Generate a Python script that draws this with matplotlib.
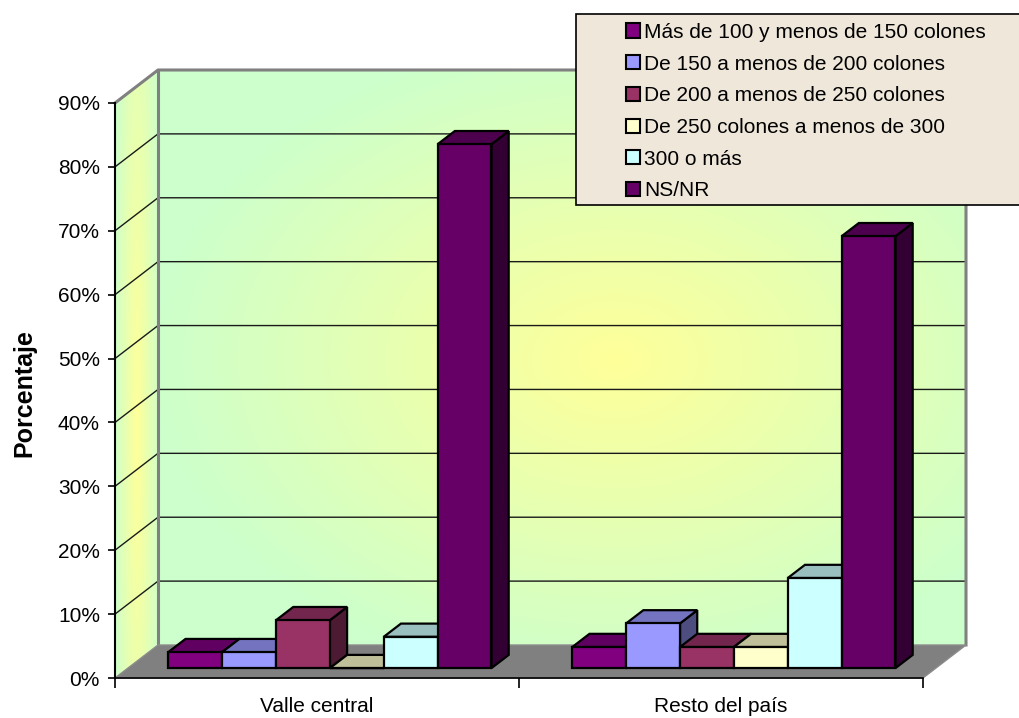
import numpy as np
import matplotlib
matplotlib.use("Agg")
import matplotlib.pyplot as plt
from matplotlib.patches import Polygon, Rectangle
from matplotlib.colors import to_rgb

plt.rcParams['font.family'] = ['Liberation Sans', 'DejaVu Sans']

# data
categories = ["Valle central", "Resto del país"]
series = ["Más de 100 y menos de 150 colones",
          "De 150 a menos de 200 colones",
          "De 200 a menos de 250 colones",
          "De 250 colones a menos de 300",
          "300 o más",
          "NS/NR"]
valle = [2.5, 2.5, 7.5, 0.0, 4.9, 82.0]
resto = [3.3, 7.0, 3.3, 3.3, 14.1, 67.6]
colors = ["#800080", "#9999FF", "#993366", "#FFFFCC", "#CCFFFF", "#660066"]
yticks = [0, 10, 20, 30, 40, 50, 60, 70, 80, 90]

W, H = 1019, 718
fig = plt.figure(figsize=(W / 100, H / 100), dpi=100)
fig.patch.set_facecolor("white")
# front plane of the 3d box
ax = fig.add_axes([115 / W, 40 / H, 808 / W, 575 / H])
ax.patch.set_visible(False)

# depth of the box, in data units
DX = 43 / 404
DY = 33 * 90 / 575
d0, d1 = 0.3, 0.7       # bar depth range
bw = 1 / 7.5            # bar width (gap 150%)


def shade(c, f):
    r, g, b = to_rgb(c)
    return (r * f, g * f, b * f)


def gradient(x0, x1, y0, y1, cx, cy, rx, ry):
    xs = np.linspace(x0, x1, 300)
    ys = np.linspace(y0, y1, 300)
    X, Y = np.meshgrid(xs, ys)
    px = 115 + 404 * X
    py = 678 - 575 / 90 * Y
    t = np.clip(np.sqrt(((px - cx) / rx) ** 2 + ((py - cy) / ry) ** 2), 0, 1)
    yel = np.array(to_rgb("#FFFF99"))
    grn = np.array(to_rgb("#CCFFCC"))
    return yel * (1 - t[..., None]) + grn * t[..., None]


# back wall
back = Polygon([(DX, DY), (2 + DX, DY), (2 + DX, 90 + DY), (DX, 90 + DY)],
               closed=True, transform=ax.transData)
img = ax.imshow(gradient(DX, 2 + DX, DY, 90 + DY, 615, 360, 470, 330),
                extent=(DX, 2 + DX, DY, 90 + DY), origin="lower",
                aspect="auto", zorder=0, interpolation="bilinear")
img.set_clip_box(fig.bbox)
img.set_clip_path(back)

# side wall
side = Polygon([(0, 0), (DX, DY), (DX, 90 + DY), (0, 90)],
               closed=True, transform=ax.transData)
img2 = ax.imshow(gradient(0, DX, 0, 90 + DY, 137, 430, 24, 700),
                 extent=(0, DX, 0, 90 + DY), origin="lower",
                 aspect="auto", zorder=0, interpolation="bilinear")
img2.set_clip_box(fig.bbox)
img2.set_clip_path(side)

# gridlines
for v in yticks[1:-1]:
    ax.plot([0, DX, 2 + DX], [v, v + DY, v + DY], color="#1a1a1a", lw=1,
            clip_on=False, zorder=1)

# wall borders
ax.plot([0, DX, 2 + DX, 2 + DX], [90, 90 + DY, 90 + DY, DY], color="#808080",
        lw=2.2, clip_on=False, zorder=1)
ax.plot([DX, DX], [DY, 90 + DY], color="#808080", lw=2.2, clip_on=False, zorder=1)

# floor
ax.add_patch(Polygon([(0, 0), (2, 0), (2 + DX, DY), (DX, DY)], closed=True,
                     fc="#808080", ec="#8c8c8c", lw=1, clip_on=False, zorder=1))

# bars
for c, vals in enumerate([valle, resto]):
    for i, h in enumerate(vals):
        x0 = c + 0.75 * bw + i * bw
        xa, xb = x0 + d0 * DX, x0 + bw + d0 * DX
        xc, xd = x0 + d1 * DX, x0 + bw + d1 * DX
        ya, yb = d0 * DY, d1 * DY
        kw = dict(closed=True, ec="black", lw=1.6, joinstyle="miter",
                  clip_on=False, zorder=2)
        ax.add_patch(Polygon([(xb, ya), (xd, yb), (xd, yb + h), (xb, ya + h)],
                             fc=shade(colors[i], 0.5), **kw))
        ax.add_patch(Polygon([(xa, ya + h), (xb, ya + h), (xd, yb + h), (xc, yb + h)],
                             fc=shade(colors[i], 0.75), **kw))
        ax.add_patch(Polygon([(xa, ya), (xb, ya), (xb, ya + h), (xa, ya + h)],
                             fc=colors[i], **kw))

# axes
ax.set_xlim(0, 2)
ax.set_ylim(0, 90)
for s in ["top", "right"]:
    ax.spines[s].set_visible(False)
ax.spines["left"].set_color("black")
ax.spines["bottom"].set_color("black")
ax.spines["left"].set_linewidth(1.5)
ax.spines["bottom"].set_linewidth(1.2)
ax.spines["left"].set_zorder(3)
ax.spines["bottom"].set_zorder(3)

ax.set_yticks(yticks)
ax.set_yticklabels([f"{v}%" for v in yticks])
ax.tick_params(axis="y", direction="out", length=5, width=1.2, pad=5.8,
               labelsize=15, colors="black")
ax.set_xticks([0, 1, 2])
ax.set_xticklabels([])
ax.tick_params(axis="x", which="major", direction="out", length=7.2, width=1.2)
ax.set_xticks([0.5, 1.5], minor=True)
ax.set_xticklabels(categories, minor=True)
ax.tick_params(axis="x", which="minor", length=0, pad=14, labelsize=15)

fig.text(24 / W, 1 - 393 / H, "Porcentaje", rotation=90, ha="center",
         va="center", fontsize=18, fontweight="bold")

# legend
fig.add_artist(Rectangle((576 / W, 1 - 205 / H), (W - 576 + 10) / W, 191 / H,
                         transform=fig.transFigure, fc="#EFE7DA", ec="black",
                         lw=1.2, zorder=5))
for k, name in enumerate(series):
    yc = 30.5 + k * 31.7
    fig.add_artist(Rectangle((626 / W, 1 - (yc + 7) / H), 14 / W, 14 / H,
                             transform=fig.transFigure, fc=colors[k], ec="black",
                             lw=1.5, zorder=6))
    fig.text(644 / W, 1 - (yc + 7.5) / H, name, ha="left", va="baseline",
             fontsize=15, zorder=6)

fig.savefig("out.png", dpi=100)
